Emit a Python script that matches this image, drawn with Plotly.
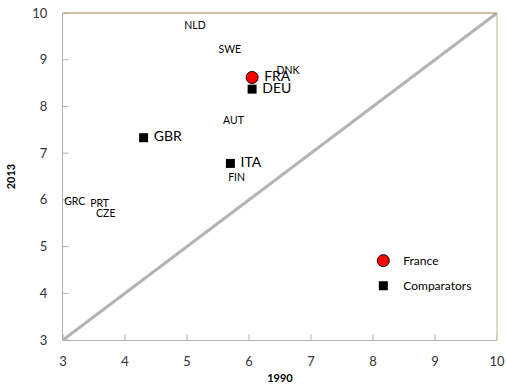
import plotly.graph_objects as go

# Countries shown with markers: France and comparators
fra_code = ["FRA"]
fra_1990 = [6.05]
fra_2013 = [8.62]

comp_codes = ["DEU", "GBR", "ITA"]
comp_1990 = [6.05, 4.30, 5.70]
comp_2013 = [8.37, 7.33, 6.78]

# Countries shown as label only
other_codes = ["NLD", "SWE", "DNK", "AUT", "FIN", "GRC", "PRT", "CZE"]
other_1990 = [5.13, 5.69, 6.63, 5.75, 5.80, 3.19, 3.59, 3.69]
other_2013 = [9.71, 9.21, 8.74, 7.67, 6.45, 5.95, 5.91, 5.68]

diag = [3, 10]
ticks = [3, 4, 5, 6, 7, 8, 9, 10]
axis_min = 3

FONT = "Lato, 'Open Sans', sans-serif"
GRID = "#b0b0b0"

fig = go.Figure()

fig.add_trace(go.Scatter(x=diag, y=diag, mode="lines",
                         line=dict(color="#b4b4b4", width=3),
                         showlegend=False, hoverinfo="skip"))

# inside tick marks (half of each marker is clipped away by the axes)
fig.add_trace(go.Scatter(x=ticks, y=[axis_min] * len(ticks), mode="markers",
                         marker=dict(symbol="line-ns", size=8,
                                     line=dict(color=GRID, width=1)),
                         cliponaxis=True, showlegend=False, hoverinfo="skip"))
fig.add_trace(go.Scatter(x=[axis_min] * len(ticks), y=ticks, mode="markers",
                         marker=dict(symbol="line-ew", size=8,
                                     line=dict(color=GRID, width=1)),
                         cliponaxis=True, showlegend=False, hoverinfo="skip"))

fig.add_trace(go.Scatter(x=other_1990, y=other_2013, mode="text", text=other_codes,
                         textposition="middle center",
                         textfont=dict(size=10.5, color="#000000", family=FONT),
                         showlegend=False))

fig.add_trace(go.Scatter(x=fra_1990, y=fra_2013, mode="markers+text",
                         text=[" " + c for c in fra_code],
                         textposition="middle right", name="France",
                         legendgroup="a",
                         marker=dict(symbol="circle", size=12, color="#ff0000",
                                     line=dict(color="#000000", width=1)),
                         textfont=dict(size=14, color="#000000", family=FONT)))

fig.add_trace(go.Scatter(x=comp_1990, y=comp_2013, mode="markers+text",
                         text=[" " + c for c in comp_codes],
                         textposition="middle right", name="Comparators",
                         legendgroup="b",
                         marker=dict(symbol="square", size=9, color="#000000"),
                         textfont=dict(size=14, color="#000000", family=FONT)))

axis_common = dict(range=[3, 10], tickvals=ticks, showgrid=False, zeroline=False,
                   showline=True, linecolor=GRID, linewidth=1,
                   ticks="outside", tickcolor="rgba(0,0,0,0)", automargin=False,
                   tickfont=dict(size=13, color="#333333", family=FONT))

fig.update_layout(
    width=506, height=391,
    margin=dict(l=63, r=9, t=13, b=51),
    paper_bgcolor="white", plot_bgcolor="white",
    font=dict(family=FONT),
    xaxis=dict(**axis_common, ticklen=9,
               title=dict(text="<b>1990</b>", font=dict(size=11, color="#000000", family=FONT),
                          standoff=6)),
    yaxis=dict(**axis_common, ticklen=12,
               title=dict(text="<b>2013</b>", font=dict(size=11, color="#000000", family=FONT),
                          standoff=14)),
    legend=dict(x=0.692, y=0.287, xanchor="left", yanchor="top",
                bgcolor="rgba(0,0,0,0)", traceorder="grouped", tracegroupgap=6,
                itemwidth=30,
                font=dict(size=12, color="#000000", family=FONT)),
    shapes=[
        dict(type="line", xref="paper", yref="paper", x0=0, x1=1, y0=1, y1=1,
             line=dict(color="#9c8a4a", width=1.2)),
        dict(type="line", xref="paper", yref="paper", x0=1, x1=1, y0=0, y1=1,
             line=dict(color="#c8bc98", width=1.2)),
    ],
)

fig.write_html(
    "out.html",
    config={"displayModeBar": False},
    post_script=(
        "document.body.style.margin='0';"
        "document.body.style.overflow='hidden';"
        "var gd=document.getElementById('{plot_id}');"
        "Plotly.relayout(gd, {'xaxis.range':[3,10], 'yaxis.range':[3,10]});"
    ),
)
